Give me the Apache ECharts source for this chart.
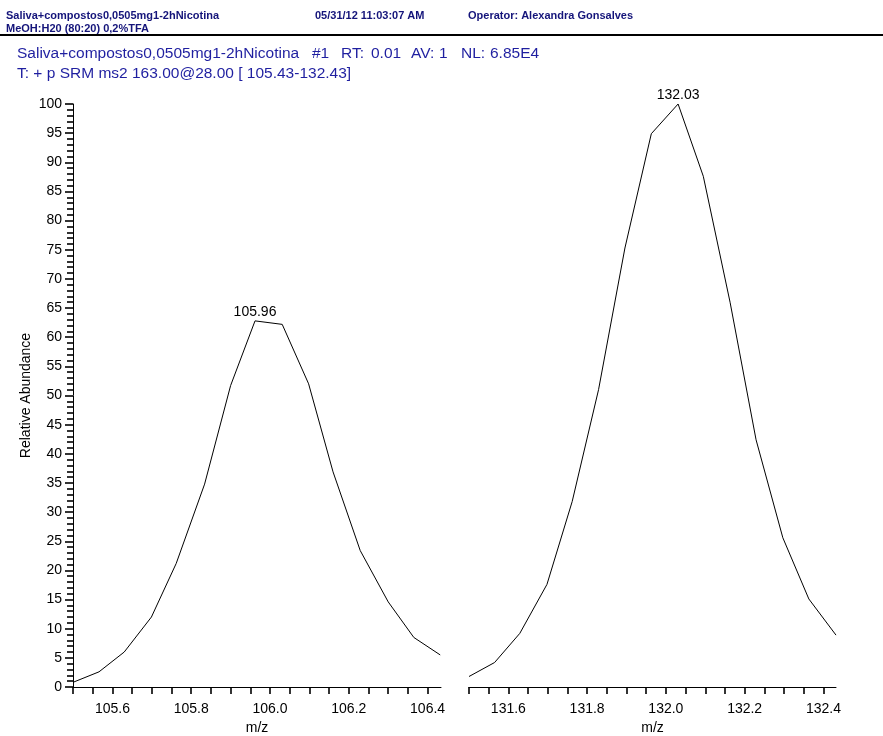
<!DOCTYPE html>
<html>
<head>
<meta charset="utf-8">
<script src="https://cdn.jsdelivr.net/npm/echarts@6/dist/echarts.min.js"></script>
<style>
html,body{margin:0;padding:0;background:#fff;}
#chart{width:883px;height:736px;}
</style>
</head>
<body>
<div id="chart"></div>
<script>
// ---- data ----
const leftMz = [105.500,105.566,105.630,105.699,105.762,105.834,105.900,105.962,106.031,106.098,106.160,106.229,106.300,106.365,106.432];
const leftAbundance = [0.8,2.6,6.0,12.0,21.2,34.8,51.7,62.8,62.2,52.0,36.9,23.4,14.6,8.5,5.5];
const rightMz = [131.500,131.565,131.629,131.698,131.762,131.829,131.896,131.963,132.031,132.095,132.163,132.229,132.297,132.363,132.432];
const rightAbundance = [1.8,4.2,9.2,17.6,31.8,51.0,75.3,94.9,100.0,87.6,66.0,42.4,25.6,15.1,8.9];

const leftTicks = [105.5,105.55,105.6,105.65,105.7,105.75,105.8,105.85,105.9,105.95,106.0,106.05,106.1,106.15,106.2,106.25,106.3,106.35,106.4];
const leftLabels = [105.6,105.8,106.0,106.2,106.4];
const rightTicks = [131.5,131.55,131.6,131.65,131.7,131.75,131.8,131.85,131.9,131.95,132.0,132.05,132.1,132.15,132.2,132.25,132.3,132.35,132.4];
const rightLabels = [131.6,131.8,132.0,132.2,132.4];

const headerLine1 = ['Saliva+compostos0,0505mg1-2hNicotina','05/31/12 11:03:07 AM','Operator: Alexandra Gonsalves'];
const headerLine2 = 'MeOH:H20 (80:20) 0,2%TFA';
const titleParts = ['Saliva+compostos0,0505mg1-2hNicotina','#1','RT:','0.01','AV:','1','NL:','6.85E4'];
const scanLine = 'T: + p SRM ms2 163.00@28.00 [ 105.43-132.43]';

// ---- chart ----
const FONT = '"Liberation Sans", Arial, sans-serif';
const chart = echarts.init(document.getElementById('chart'), null, {renderer:'canvas'});

function seriesData(xs, ys){
  let maxI = 0;
  ys.forEach((v,i)=>{ if(v>ys[maxI]) maxI=i; });
  return xs.map((x,i)=>{
    if(i===maxI){
      return {value:[x,ys[i]], label:{show:true, position:'top', distance:2, formatter: x.toFixed(2),
        color:'#000', fontFamily:FONT, fontSize:14}};
    }
    return {value:[x,ys[i]]};
  });
}

function xAxisCfg(gridIndex, min, max, ticks, labels){
  return {
    type:'value', gridIndex, min, max,
    axisLine:{show:true, onZero:false, lineStyle:{color:'#000', width:1}},
    axisTick:{show:true, length:7, customValues:ticks, lineStyle:{color:'#000', width:1.6}},
    axisLabel:{show:true, customValues:labels, margin:15, color:'#000', fontFamily:FONT, fontSize:14,
      formatter:(v)=>Number(v).toFixed(1)},
    splitLine:{show:false},
    name:'m/z', nameLocation:'middle', nameGap:34,
    nameTextStyle:{color:'#000', fontFamily:FONT, fontSize:14}
  };
}

const titlePos = [17,312,341,371,411,439,461,490];
const graphics = [
  {type:'text', left:6, top:10, style:{text:headerLine1[0], fill:'#14147a', font:'bold 11px '+FONT}},
  {type:'text', left:315, top:10, style:{text:headerLine1[1], fill:'#14147a', font:'bold 11px '+FONT}},
  {type:'text', left:468, top:10, style:{text:headerLine1[2], fill:'#14147a', font:'bold 11px '+FONT}},
  {type:'text', left:6, top:23, style:{text:headerLine2, fill:'#14147a', font:'bold 11px '+FONT}},
  {type:'rect', shape:{x:0, y:34, width:883, height:2}, style:{fill:'#000'}},
  {type:'text', left:17, top:66, style:{text:scanLine, fill:'#1f1fa0', font:'15.5px '+FONT}}
];
titleParts.forEach((t,i)=>{
  graphics.push({type:'text', left:titlePos[i], top:46, style:{text:t, fill:'#1f1fa0', font:'15.5px '+FONT}});
});

const option = {
  backgroundColor:'#fff',
  animation:false,
  graphic: graphics,
  grid:[
    {left:73, top:104, width:368, bottom:49, containLabel:false, outerBoundsMode:'none'},
    {left:469, top:104, width:367, bottom:49, containLabel:false, outerBoundsMode:'none'}
  ],
  xAxis:[
    xAxisCfg(0, 105.5, 106.434, leftTicks, leftLabels),
    xAxisCfg(1, 131.5, 132.432, rightTicks, rightLabels)
  ],
  yAxis:[
    {type:'value', gridIndex:0, min:0, max:100, interval:5,
      axisLine:{show:true, lineStyle:{color:'#000', width:1}},
      axisTick:{show:true, length:8, lineStyle:{color:'#000', width:1.6}},
      minorTick:{show:true, splitNumber:5, length:6, lineStyle:{color:'#000', width:1.6}},
      axisLabel:{margin:11, color:'#000', fontFamily:FONT, fontSize:14},
      splitLine:{show:false}, minorSplitLine:{show:false},
      name:'Relative Abundance', nameLocation:'middle', nameGap:40, nameRotate:90,
      nameTextStyle:{color:'#000', fontFamily:FONT, fontSize:14}},
    {type:'value', gridIndex:1, min:0, max:100, interval:5, show:false}
  ],
  series:[
    {type:'line', xAxisIndex:0, yAxisIndex:0, data:seriesData(leftMz,leftAbundance),
      showSymbol:true, symbol:'circle', symbolSize:0.01, clip:false,
      lineStyle:{color:'#000', width:1}, itemStyle:{color:'#000'}},
    {type:'line', xAxisIndex:1, yAxisIndex:1, data:seriesData(rightMz,rightAbundance),
      showSymbol:true, symbol:'circle', symbolSize:0.01, clip:false,
      lineStyle:{color:'#000', width:1}, itemStyle:{color:'#000'}}
  ]
};
chart.setOption(option);
</script>
</body>
</html>
